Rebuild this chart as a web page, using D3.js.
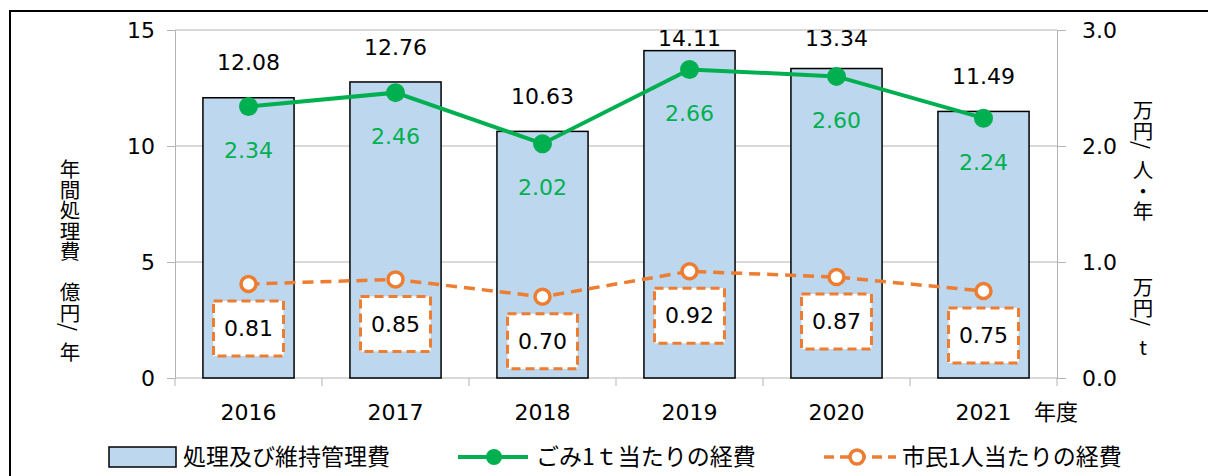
<!DOCTYPE html>
<html><head><meta charset="utf-8">
<script src="https://cdn.jsdelivr.net/npm/d3@7/dist/d3.min.js"></script>
<style>
html,body{margin:0;padding:0;background:#fff;}
text{font-family:"DejaVu Sans","Noto Sans CJK JP",sans-serif;}
.jp{font-family:"Noto Sans CJK JP","DejaVu Sans",sans-serif;}
</style></head>
<body>
<svg id="chart" width="1208" height="476"></svg>
<script>
const years = ["2016","2017","2018","2019","2020","2021"];
const totalCost = [12.08, 12.76, 10.63, 14.11, 13.34, 11.49];
const costPerTon = [2.34, 2.46, 2.02, 2.66, 2.60, 2.24];
const costPerPerson = [0.81, 0.85, 0.70, 0.92, 0.87, 0.75];
const leftTicks = [0, 5, 10, 15];
const rightTicks = [0.0, 1.0, 2.0, 3.0];
const seriesNames = ["処理及び維持管理費", "ごみ1ｔ当たりの経費", "市民1人当たりの経費"];
const leftTitle = "年間処理費　億円/年";
const rightTitle1 = "万円/人・年";
const rightTitle2 = "万円/t";
const xTitle = "年度";

const svg = d3.select("#chart");
const L = 175, R = 1057, T = 30, B = 378;
const green = "#00B050", orange = "#ED7D31", barFill = "#BDD7EE", grid = "#b3b3b3";

const x = d3.scaleBand().domain(years).range([L, R]).padding(0);
const yL = d3.scaleLinear().domain([0, 15]).range([B, T]);
const yR = d3.scaleLinear().domain([0, 3]).range([B, T]);

// frame
svg.append("rect").attr("x", 10).attr("y", 11).attr("width", 1220).attr("height", 500)
  .attr("fill", "none").attr("stroke", "#000").attr("stroke-width", 2);

// gridlines
svg.append("g").selectAll("line").data(leftTicks.filter(d => d > 0)).join("line")
  .attr("x1", L).attr("x2", R).attr("y1", d => yL(d)).attr("y2", d => yL(d))
  .attr("stroke", grid).attr("stroke-width", 1);

// left axis
const gl = svg.append("g").attr("transform", `translate(${L},0)`)
  .call(d3.axisLeft(yL).tickValues(leftTicks).tickSize(8).tickPadding(12).tickFormat(d3.format("d")));
gl.select(".domain").attr("stroke", grid);
gl.selectAll(".tick line").attr("stroke", grid);
gl.selectAll(".tick text").attr("font-size", 22).attr("fill", "#000").style("font-family", "DejaVu Sans");

// right axis
const gr = svg.append("g").attr("transform", `translate(${R},0)`)
  .call(d3.axisRight(yR).tickValues(rightTicks).tickSize(9).tickPadding(16).tickFormat(d3.format(".1f")));
gr.select(".domain").attr("stroke", grid);
gr.selectAll(".tick line").attr("stroke", grid);
gr.selectAll(".tick text").attr("font-size", 22).attr("fill", "#000").style("font-family", "DejaVu Sans");

// bottom axis
svg.append("line").attr("x1", L).attr("x2", R).attr("y1", B).attr("y2", B).attr("stroke", grid);
const bounds = years.map(d => x(d)).concat([R]);
svg.append("g").selectAll("line").data(bounds).join("line")
  .attr("x1", d => d).attr("x2", d => d).attr("y1", B).attr("y2", B + 8).attr("stroke", grid);
svg.append("g").selectAll("text").data(years).join("text")
  .attr("x", d => x(d) + x.bandwidth() / 2).attr("y", 412).attr("dy", "0.35em")
  .attr("text-anchor", "middle").attr("font-size", 22).text(d => d);
svg.append("text").attr("class", "jp").attr("x", 1034).attr("y", 412).attr("dy", "0.35em")
  .attr("font-size", 22).text(xTitle);

// bars
const bw = x.bandwidth() * 0.62;
svg.append("g").selectAll("rect").data(totalCost).join("rect")
  .attr("x", (d, i) => x(years[i]) + (x.bandwidth() - bw) / 2)
  .attr("y", d => yL(d)).attr("width", bw).attr("height", d => B - yL(d))
  .attr("fill", barFill).attr("stroke", "#000").attr("stroke-width", 1.5);

// bar labels
svg.append("g").selectAll("text").data(totalCost).join("text")
  .attr("x", (d, i) => x(years[i]) + x.bandwidth() / 2)
  .attr("y", d => Math.max(yL(d) - 35, 38)).attr("dy", "0.35em")
  .attr("text-anchor", "middle").attr("font-size", 22).text(d => d.toFixed(2));

const cx = (d, i) => x(years[i]) + x.bandwidth() / 2;

// orange line
const lineP = d3.line().x((d, i) => cx(d, i)).y(d => yR(d));
svg.append("path").datum(costPerPerson).attr("d", lineP)
  .attr("fill", "none").attr("stroke", orange).attr("stroke-width", 3.5).attr("stroke-dasharray", "11,7");

// orange label boxes
const boxW = 70, boxH = 55;
svg.append("g").selectAll("rect").data(costPerPerson).join("rect")
  .attr("x", (d, i) => cx(d, i) - boxW / 2).attr("y", d => yR(d) + 17)
  .attr("width", boxW).attr("height", boxH)
  .attr("fill", "#fff").attr("stroke", orange).attr("stroke-width", 3).attr("stroke-dasharray", "9,5");
svg.append("g").selectAll("text").data(costPerPerson).join("text")
  .attr("x", (d, i) => cx(d, i)).attr("y", d => yR(d) + 17 + boxH / 2).attr("dy", "0.35em")
  .attr("text-anchor", "middle").attr("font-size", 22).text(d => d.toFixed(2));

svg.append("g").selectAll("circle").data(costPerPerson).join("circle")
  .attr("cx", (d, i) => cx(d, i)).attr("cy", d => yR(d)).attr("r", 7.5)
  .attr("fill", "#fff").attr("stroke", orange).attr("stroke-width", 3.5);

// green line
svg.append("path").datum(costPerTon).attr("d", lineP)
  .attr("fill", "none").attr("stroke", green).attr("stroke-width", 4);
svg.append("g").selectAll("circle").data(costPerTon).join("circle")
  .attr("cx", (d, i) => cx(d, i)).attr("cy", d => yR(d)).attr("r", 9.5).attr("fill", green);
svg.append("g").selectAll("text").data(costPerTon).join("text")
  .attr("x", (d, i) => cx(d, i)).attr("y", d => yR(d) + 44).attr("dy", "0.35em")
  .attr("text-anchor", "middle").attr("font-size", 22).attr("fill", green).text(d => d.toFixed(2));

// axis titles (vertical writing; slash turned sideways, latin letters upright)
function vtext(xp, yp, s, size) {
  const t = svg.append("text").attr("class", "jp").attr("x", xp).attr("y", yp)
    .attr("font-size", size)
    .style("writing-mode", "vertical-rl").style("text-orientation", "mixed");
  Array.from(s).forEach(ch => {
    const sp = t.append("tspan").text(ch);
    if (ch === "/") sp.style("letter-spacing", (size * 0.55) + "px");
    else if (/[A-Za-z]/.test(ch)) sp.style("text-orientation", "upright");
  });
}
vtext(70, 159, leftTitle, 20.5);
vtext(1143, 100, rightTitle1, 20.5);
vtext(1143, 277, rightTitle2, 20.5);

// legend
const lg = svg.append("g");
lg.append("rect").attr("x", 109).attr("y", 447).attr("width", 67).attr("height", 20)
  .attr("fill", barFill).attr("stroke", "#000").attr("stroke-width", 1.5);
lg.append("text").attr("class", "jp").attr("x", 183).attr("y", 457).attr("dy", "0.35em")
  .attr("font-size", 23).text(seriesNames[0]);
lg.append("line").attr("x1", 458).attr("x2", 528).attr("y1", 457).attr("y2", 457)
  .attr("stroke", green).attr("stroke-width", 4);
lg.append("circle").attr("cx", 494).attr("cy", 457).attr("r", 8).attr("fill", green);
lg.append("text").attr("class", "jp").attr("x", 536).attr("y", 457).attr("dy", "0.35em")
  .attr("font-size", 23).text(seriesNames[1]);
lg.append("line").attr("x1", 824).attr("x2", 896).attr("y1", 457).attr("y2", 457)
  .attr("stroke", orange).attr("stroke-width", 3.5).attr("stroke-dasharray", "10,6");
lg.append("circle").attr("cx", 857).attr("cy", 457).attr("r", 7).attr("fill", "#fff")
  .attr("stroke", orange).attr("stroke-width", 3.5);
lg.append("text").attr("class", "jp").attr("x", 902).attr("y", 457).attr("dy", "0.35em")
  .attr("font-size", 23).text(seriesNames[2]);
</script>
</body></html>
